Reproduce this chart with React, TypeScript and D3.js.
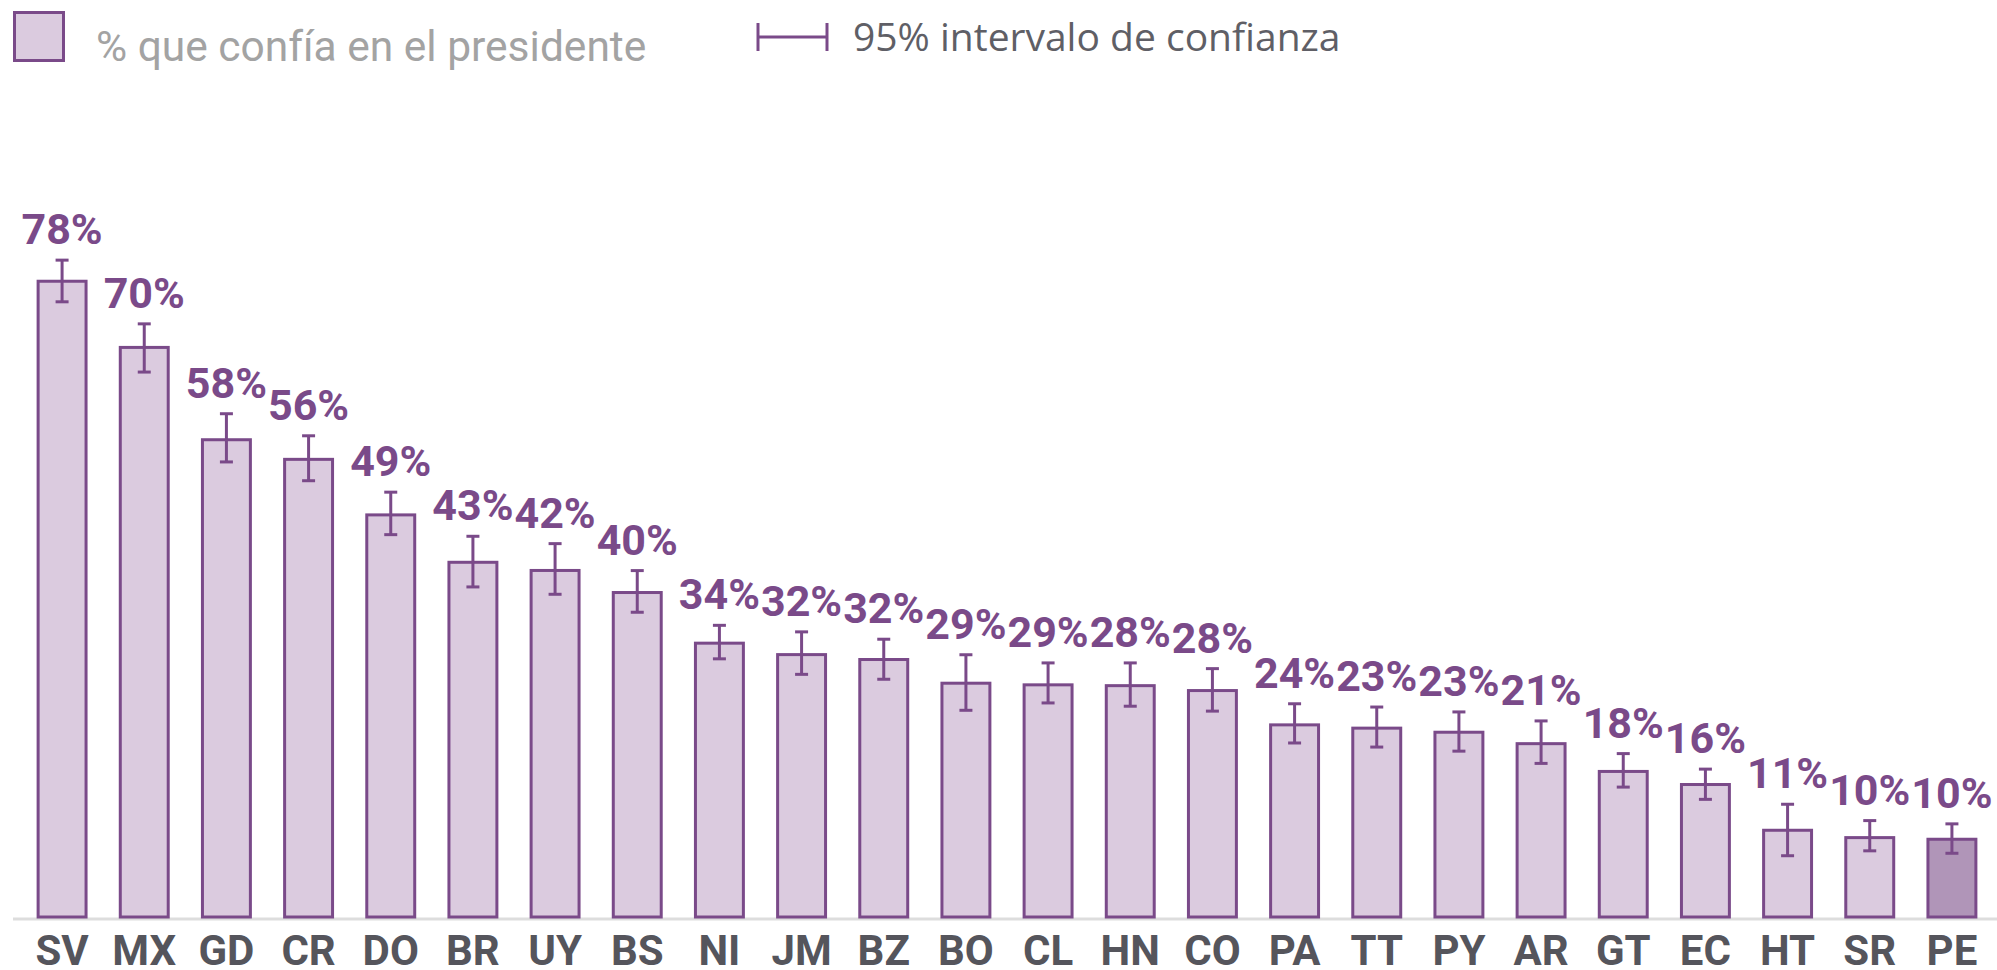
import React from "react";
import * as d3 from "d3";

const countries = ["SV","MX","GD","CR","DO","BR","UY","BS","NI","JM","BZ","BO","CL","HN","CO","PA","TT","PY","AR","GT","EC","HT","SR","PE"];
const values = [78.0,69.9,58.6,56.2,49.4,43.6,42.6,39.9,33.7,32.3,31.7,28.8,28.6,28.5,27.9,23.7,23.3,22.8,21.4,18.0,16.4,10.8,9.9,9.7];
const ciLow = [75.3,66.7,55.7,53.4,46.8,40.4,39.5,37.3,31.6,29.7,29.1,25.3,26.2,25.8,25.2,21.3,20.8,20.3,18.8,15.9,14.4,7.5,8.1,7.8];
const ciHigh = [80.4,72.6,61.6,58.9,52.0,46.6,45.7,42.4,35.7,34.9,34.0,32.1,31.1,31.1,30.4,26.1,25.7,25.1,24.0,20.0,18.1,13.8,11.8,11.4];
const labels = ["78%","70%","58%","56%","49%","43%","42%","40%","34%","32%","32%","29%","29%","28%","28%","24%","23%","23%","21%","18%","16%","11%","10%","10%"];
const highlight = "PE";

const W = 1997;
const H = 970;
const PURPLE = "#7a4a89";
const FILL = "#dbcbdf";
const FILL_HL = "#b095b8";

export default function App() {
  const x = d3.scaleBand<string>().domain(countries).range([21, 1993]).paddingInner(0.38).paddingOuter(0.19);
  const y = d3.scaleLinear().domain([0, 100]).range([917, 100]);
  const bw = x.bandwidth();
  const cap = 6.5;
  return (
    <svg width={W} height={H} style={{ position: "absolute", left: 0, top: 0, background: "#fff" }} fontFamily="Roboto">
      {/* legend */}
      <rect x={14.5} y={12.5} width={49} height={48} fill={FILL} stroke={PURPLE} strokeWidth={3} />
      <text x={96} y={61} fontSize={42.5} fill="#a3a3a3" fontFamily="Roboto">% que confía en el presidente</text>
      <g stroke={PURPLE} strokeWidth={3}>
        <line x1={758} x2={758} y1={23} y2={51} />
        <line x1={827} x2={827} y1={23} y2={51} />
        <line x1={758} x2={827} y1={37} y2={37} />
      </g>
      <text x={853} y={51} fontSize={39} fill="#5f5f66" fontFamily="Open Sans">95% intervalo de confianza</text>

      {/* axis line */}
      <line x1={13} x2={W} y1={919} y2={919} stroke="#dddddd" strokeWidth={3} />

      {countries.map((c, i) => {
        const x0 = x(c)!;
        const cx = x0 + bw / 2;
        return (
          <g key={c}>
            <rect x={x0 + 1.5} y={y(values[i]) + 1.5} width={bw - 3} height={y(0) - y(values[i]) - 1.5}
              fill={c === highlight ? FILL_HL : FILL} stroke={PURPLE} strokeWidth={3} />
            <g stroke={PURPLE} strokeWidth={3}>
              <line x1={cx} x2={cx} y1={y(ciHigh[i])} y2={y(ciLow[i])} />
              <line x1={cx - cap} x2={cx + cap} y1={y(ciHigh[i])} y2={y(ciHigh[i])} />
              <line x1={cx - cap} x2={cx + cap} y1={y(ciLow[i])} y2={y(ciLow[i])} />
            </g>
            <text x={cx} y={y(ciHigh[i]) - 16} textAnchor="middle" fontSize={43} fontWeight="bold" fill={PURPLE}>{labels[i]}</text>
            <text x={cx} y={965} textAnchor="middle" fontSize={42} fontWeight="bold" fill="#55555c">{c}</text>
          </g>
        );
      })}
    </svg>
  );
}
